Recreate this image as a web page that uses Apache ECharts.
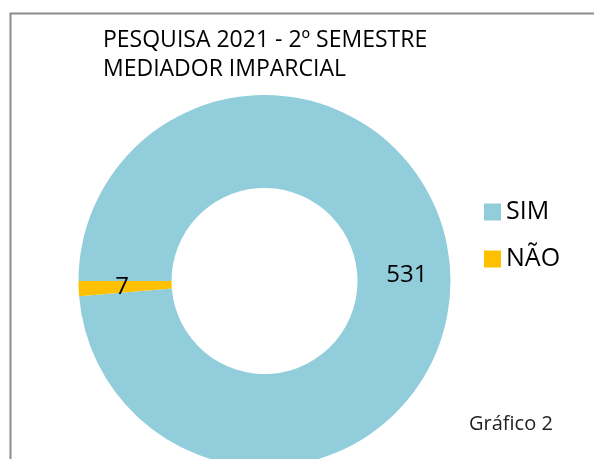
<!DOCTYPE html>
<html><head><meta charset="utf-8">
<script src="https://cdn.jsdelivr.net/npm/echarts@6/dist/echarts.min.js"></script>
<style>html,body{margin:0;padding:0;background:#fff}#c{width:594px;height:459px}</style>
</head><body><div id="c"></div>
<script>
const categories = ['SIM', 'NÃO'];
const values = [531, 7];
const colors = ['#92CDDC', '#FFC000'];
const titleLines = ['PESQUISA 2021 - 2º SEMESTRE', 'MEDIADOR IMPARCIAL'];
const footnote = 'Gráfico 2';
const FONT = '"Open Sans", "Noto Sans", sans-serif';

const chart = echarts.init(document.getElementById('c'), null, {renderer: 'canvas'});
chart.setOption({
  animation: false,
  backgroundColor: '#fff',
  title: {
    text: titleLines.join('\n'),
    left: 98, top: 21,
    textStyle: {fontFamily: FONT, fontSize: 23, fontWeight: 'normal', color: '#000', lineHeight: 29}
  },
  legend: {
    orient: 'vertical', left: 479, top: 194,
    itemWidth: 17, itemHeight: 17, itemGap: 21, icon: 'rect',
    textStyle: {fontFamily: FONT, fontSize: 25, color: '#000', lineHeight: 26},
    data: categories
  },
  graphic: [
    {type: 'rect', shape: {x: 10.5, y: 13.5, width: 700, height: 600},
     style: {fill: 'none', stroke: '#8c8c8c', lineWidth: 2}, z: -1},
    {type: 'text', left: 469, top: 414,
     style: {text: footnote, fontFamily: FONT, fontSize: 20, fill: '#222'}}
  ],
  series: [{
    type: 'pie',
    center: [264.5, 281],
    radius: [93, 186],
    startAngle: 180,
    clockwise: true,
    avoidLabelOverlap: false,
    label: {show: true, position: 'inside', formatter: '{c}', fontFamily: FONT, fontSize: 24, color: '#000'},
    labelLine: {show: false},
    itemStyle: {borderWidth: 0},
    emphasis: {disabled: true},
    data: categories.map((n, i) => ({name: n, value: values[i], itemStyle: {color: colors[i]}}))
  }]
});
</script></body></html>
